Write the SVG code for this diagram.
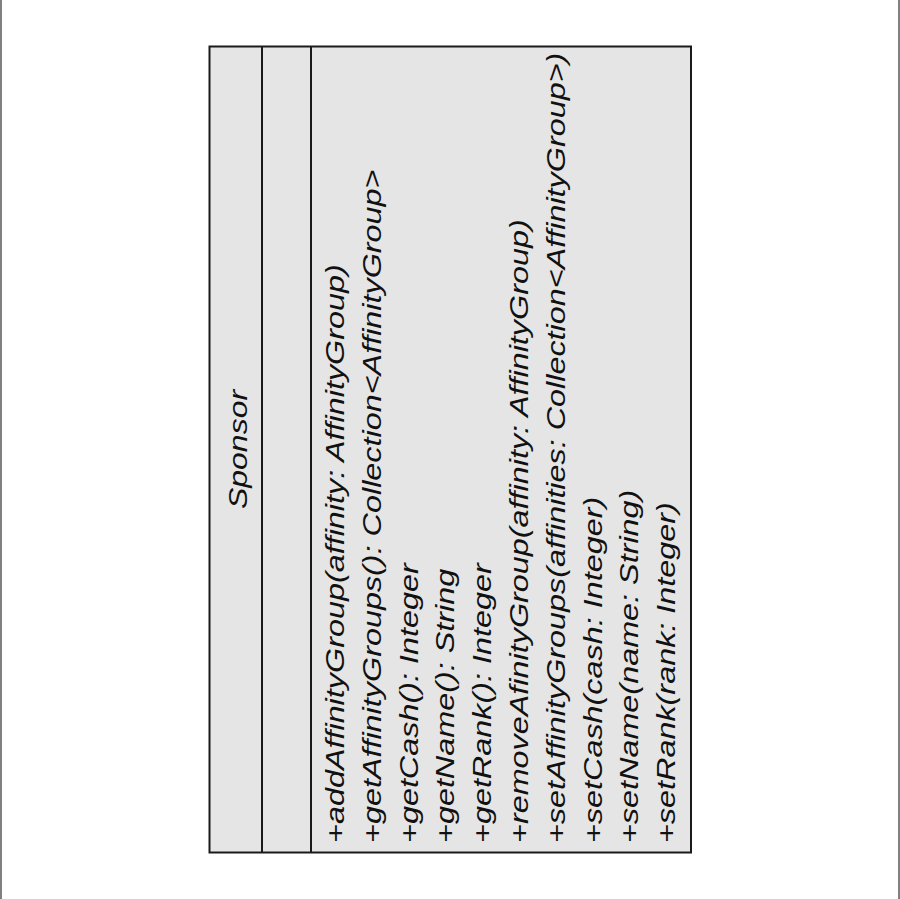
<svg xmlns="http://www.w3.org/2000/svg" width="900" height="899" viewBox="0 0 900 899">
<style>
.box{fill:#e5e5e5;stroke:#1a1a1a;stroke-width:2}
.div{stroke:#1a1a1a;stroke-width:2}
.t{font-family:"Liberation Sans",Arial,sans-serif;font-size:25px;font-style:italic;fill:#111}
.edge{stroke:#808080;stroke-width:2}
</style>
<rect x="0" y="0" width="900" height="899" fill="#ffffff"/>
<line class="edge" x1="1" y1="0" x2="1" y2="899"/>
<line class="edge" x1="899" y1="0" x2="899" y2="899"/>
<g id="Sponsor">
<rect class="box" x="209.5" y="46.5" width="481.5" height="806"/>
<line class="div" x1="262" y1="46.5" x2="262" y2="852.5"/>
<line class="div" x1="311" y1="46.5" x2="311" y2="852.5"/>
<text class="t" text-anchor="middle" transform="translate(247,449.5) rotate(-90) scale(1.28,1)">Sponsor</text>
<text class="t" transform="translate(344,843) rotate(-90) scale(1.295,1)">+addAffinityGroup(affinity: AffinityGroup)</text>
<text class="t" transform="translate(380.8,843) rotate(-90) scale(1.295,1)">+getAffinityGroups(): Collection&lt;AffinityGroup&gt;</text>
<text class="t" transform="translate(417.6,843) rotate(-90) scale(1.295,1)">+getCash(): Integer</text>
<text class="t" transform="translate(454.4,843) rotate(-90) scale(1.295,1)">+getName(): String</text>
<text class="t" transform="translate(491.2,843) rotate(-90) scale(1.295,1)">+getRank(): Integer</text>
<text class="t" transform="translate(528,843) rotate(-90) scale(1.295,1)">+removeAfinityGroup(affinity: AffinityGroup)</text>
<text class="t" transform="translate(564.8,843) rotate(-90) scale(1.295,1)">+setAffinityGroups(affinities: Collection&lt;AffinityGroup&gt;)</text>
<text class="t" transform="translate(601.6,843) rotate(-90) scale(1.295,1)">+setCash(cash: Integer)</text>
<text class="t" transform="translate(638.4,843) rotate(-90) scale(1.295,1)">+setName(name: String)</text>
<text class="t" transform="translate(675.2,843) rotate(-90) scale(1.295,1)">+setRank(rank: Integer)</text>
</g>
<g id="connectors"/>
</svg>
